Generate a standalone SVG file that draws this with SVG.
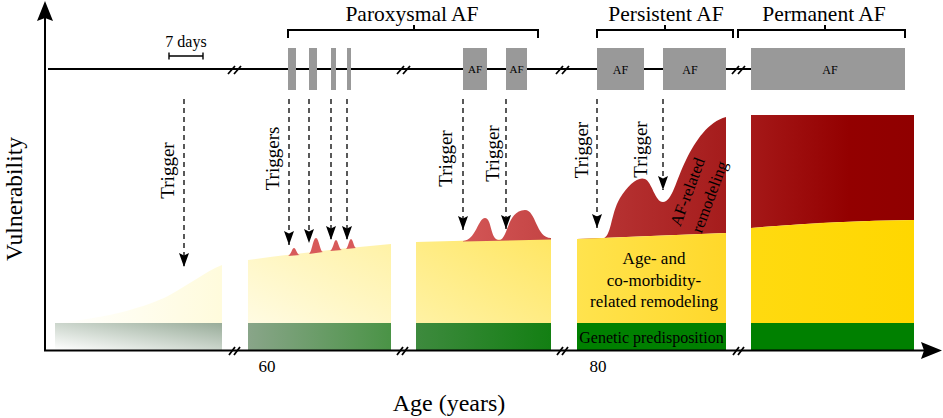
<svg xmlns="http://www.w3.org/2000/svg" width="943" height="418" viewBox="0 0 943 418" font-family="'Liberation Serif','Times New Roman',serif">
<style>
text{font-family:"Liberation Serif","Times New Roman",serif;fill:#000}
.ax{stroke:#000;stroke-width:2;fill:none}
.br{stroke:#000;stroke-width:1.4;fill:none}
.brk{stroke:#000;stroke-width:1.8;fill:none}
.box{fill:#999999}
.dash{stroke:#000;stroke-width:1.3;stroke-dasharray:5 4;fill:none;marker-end:url(#ah)}
.lab{font-size:19px;text-anchor:middle}
.af{font-size:12px;text-anchor:middle}
</style>
<defs>
<marker id="ah" markerUnits="userSpaceOnUse" markerWidth="16" markerHeight="12" viewBox="0 -6 16 12" refX="14" refY="0" orient="auto">
<path d="M0,-5 L14,0 L0,5 L2.5,0 Z" fill="#000"/>
</marker>
<linearGradient id="y1" x1="0" y1="0" x2="1" y2="0"><stop offset="0" stop-color="#ffffff"/><stop offset="1" stop-color="#fffbdc"/></linearGradient>
<linearGradient id="g1" x1="0" y1="1" x2="1" y2="0"><stop offset="0" stop-color="#ffffff"/><stop offset="1" stop-color="#98ac99"/></linearGradient>
<linearGradient id="y2" x1="0" y1="1" x2="1" y2="0"><stop offset="0" stop-color="#fffbe2"/><stop offset="1" stop-color="#fff2a6"/></linearGradient>
<linearGradient id="g2" x1="0" y1="0" x2="1" y2="0"><stop offset="0" stop-color="#89a589"/><stop offset="1" stop-color="#4a9346"/></linearGradient>
<linearGradient id="y3" x1="0" y1="1" x2="1" y2="0"><stop offset="0" stop-color="#fff2a4"/><stop offset="1" stop-color="#ffe663"/></linearGradient>
<linearGradient id="g3" x1="0" y1="0" x2="1" y2="0"><stop offset="0" stop-color="#3e8a3e"/><stop offset="1" stop-color="#137f13"/></linearGradient>
<linearGradient id="y4" x1="0" y1="0" x2="1" y2="0"><stop offset="0" stop-color="#ffe34e"/><stop offset="1" stop-color="#ffd82a"/></linearGradient>
<linearGradient id="y5" x1="0" y1="0" x2="1" y2="0"><stop offset="0" stop-color="#ffda10"/><stop offset="1" stop-color="#ffd700"/></linearGradient>
<linearGradient id="r4" x1="0" y1="0" x2="1" y2="0"><stop offset="0" stop-color="#bb3838"/><stop offset="1" stop-color="#a51c1c"/></linearGradient>
<linearGradient id="r5" x1="0" y1="0" x2="1" y2="0"><stop offset="0" stop-color="#a51818"/><stop offset="0.6" stop-color="#930000"/><stop offset="1" stop-color="#900000"/></linearGradient>
<linearGradient id="rb" x1="0" y1="0" x2="1" y2="0"><stop offset="0" stop-color="#d35656"/><stop offset="1" stop-color="#c44444"/></linearGradient>
</defs>

<g id="panel1">
<path d="M55,323 C110,318 148,306 168,296 C190,284 205,272 222,265 L222,323 Z" fill="url(#y1)"/>
<rect x="55" y="323" width="167" height="27" fill="url(#g1)"/>
</g>
<g id="panel2">
<path d="M248,260 Q320,250 391,244 L391,323 L248,323 Z" fill="url(#y2)"/>
<rect x="248" y="323" width="143" height="27" fill="url(#g2)"/>
<g fill="#d85a5a">
<path d="M288,256 C291,255 292,248 294,248 C296,248 297,255 300,255 Z"/>
<path d="M309,254 C312,252 313,238 316,238 C319,238 320,252 323,252 Z"/>
<path d="M330,251 C333,250 334,240 336,240 C338,240 339,250 342,250 Z"/>
<path d="M346,249 C348,248 349,239 351,239 C353,239 354,248 356,248 Z"/>
</g>
</g>
<g id="panel3">
<path d="M416,242 Q480,240 551,238 L551,323 L416,323 Z" fill="url(#y3)"/>
<rect x="416" y="323" width="135" height="27" fill="url(#g3)"/>
<path d="M463,241 C476,240 478,218 485,218 C492,218 490,240 499,240 C508,240 507,210 525,210 C536,210 536,238 551,238 L551,239.5 L463,241.5 Z" fill="url(#rb)"/>
</g>
<g id="panel4">
<path d="M577,239 L602,239 C612,237 610,215 620,198 C628,185 638,176 645,179 C652,182 655,202 663,202 C672,202 676,180 686,160 C696,140 708,122 726,117 L726,233 Q650,236 577,239 Z" fill="url(#r4)"/>
<path d="M577,239 Q650,236 726,233 L726,323 L577,323 Z" fill="url(#y4)"/>
<rect x="577" y="323" width="149" height="27" fill="#008000"/>
<text x="654" y="264" font-size="17" text-anchor="middle">Age- and</text>
<text x="654" y="285.5" font-size="17" text-anchor="middle">co-morbidity-</text>
<text x="654" y="307" font-size="17" text-anchor="middle">related remodeling</text>
<text x="651.5" y="343" font-size="16" text-anchor="middle">Genetic predisposition</text>
<g transform="translate(688,192) rotate(-69.5)"><text x="0" y="5" font-size="16.5" text-anchor="middle">AF-related</text></g>
<g transform="translate(710,197) rotate(-69.5)"><text x="0" y="5" font-size="16.5" text-anchor="middle">remodeling</text></g>
</g>
<g id="panel5">
<path d="M751,115 H914 V220 Q830,221 751,228 Z" fill="url(#r5)"/>
<path d="M751,228 Q830,221 914,220 V323 H751 Z" fill="url(#y5)"/>
<rect x="751" y="323" width="163" height="27" fill="#008000"/>
</g>

<g id="axes">
<path class="ax" d="M45,350 V18"/>
<path d="M45,1 L53,21 L45,18 L37,21 Z" fill="#000"/>
<path class="ax" d="M44,350.5 H924"/>
<path d="M942,350.5 L921,342 L924,350.5 L921,359 Z" fill="#000"/>
<path class="brk" d="M229,355 L235,347 M234,355 L240,347 M397,355 L403,347 M402,355 L408,347 M557,355 L563,347 M562,355 L568,347 M733,355 L739,347 M738,355 L744,347"/>
<text x="267" y="372" font-size="17" text-anchor="middle">60</text>
<text x="598" y="372" font-size="17" text-anchor="middle">80</text>
<text x="449" y="411" font-size="24" text-anchor="middle">Age (years)</text>
<g transform="translate(22,199) rotate(-90)"><text x="0" y="0" font-size="23.5" text-anchor="middle">Vulnerability</text></g>
</g>

<g id="timeline">
<path class="ax" d="M48,69 H751"/>
<path class="brk" d="M228,74 L235,66 M234,74 L241,66 M397,74 L404,66 M403,74 L410,66 M556,74 L563,66 M562,74 L569,66 M732,74 L739,66 M738,74 L745,66"/>
<path class="br" d="M169,56 H203 M169,52.5 V59.5 M203,52.5 V59.5"/>
<text x="186" y="47" font-size="16" text-anchor="middle">7 days</text>
<rect class="box" x="288" y="48" width="8" height="42"/>
<rect class="box" x="309" y="48" width="8" height="42"/>
<rect class="box" x="331" y="48" width="5" height="42"/>
<rect class="box" x="347" y="48" width="4" height="42"/>
<g id="af1"><rect class="box" x="463" y="48" width="24" height="42"/><text x="475" y="73" font-size="11" text-anchor="middle">AF</text></g>
<g id="af2"><rect class="box" x="506" y="48" width="21" height="42"/><text x="516.5" y="73" font-size="11" text-anchor="middle">AF</text></g>
<g id="af3"><rect class="box" x="597" y="48" width="47" height="42"/><text class="af" x="620.5" y="73.5">AF</text></g>
<g id="af4"><rect class="box" x="663" y="48" width="63" height="42"/><text class="af" x="690" y="73.5">AF</text></g>
<g id="af5"><rect class="box" x="751" y="48" width="154" height="42"/><text class="af" x="830" y="73.5">AF</text></g>
</g>

<g id="brackets">
<path class="ax" d="M288,38 V30 H538 V38 M414,30 V25"/>
<path class="ax" d="M597,38 V30 H733 V38 M665,30 V25"/>
<path class="ax" d="M738,38 V30 H905 V38 M825,30 V25"/>
<text x="412" y="21" font-size="21.5" text-anchor="middle">Paroxysmal AF</text>
<text x="666" y="21" font-size="21.5" text-anchor="middle">Persistent AF</text>
<text x="824" y="21" font-size="21.5" text-anchor="middle">Permanent AF</text>
</g>

<g id="connectors">
<path class="dash" d="M184,99 V267"/>
<path class="dash" d="M289,99 V245"/>
<path class="dash" d="M309,99 V243"/>
<path class="dash" d="M331,99 V240"/>
<path class="dash" d="M347,99 V240"/>
<path class="dash" d="M463,99 V230"/>
<path class="dash" d="M506,99 V229"/>
<path class="dash" d="M597,99 V228"/>
<path class="dash" d="M663,99 V190"/>
</g>

<g id="trigger-labels">
<g transform="translate(174,170.5) rotate(-90)"><text class="lab" x="0" y="0">Trigger</text></g>
<g transform="translate(278.5,158.5) rotate(-90)"><text class="lab" x="0" y="0">Triggers</text></g>
<g transform="translate(451.5,158.5) rotate(-90)"><text class="lab" x="0" y="0">Trigger</text></g>
<g transform="translate(498.5,153.5) rotate(-90)"><text class="lab" x="0" y="0">Trigger</text></g>
<g transform="translate(587.5,150) rotate(-90)"><text class="lab" x="0" y="0">Trigger</text></g>
<g transform="translate(646.5,149.5) rotate(-90)"><text class="lab" x="0" y="0">Trigger</text></g>
</g>
</svg>
